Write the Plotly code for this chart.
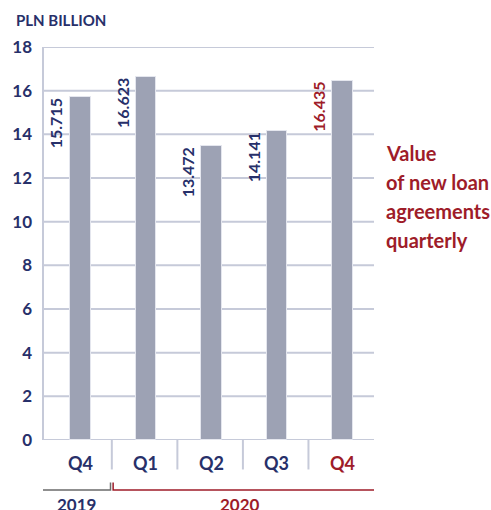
import plotly.graph_objects as go

# Quarterly value of new loan agreements, PLN billion
quarters = ["Q4", "Q1", "Q2", "Q3", "Q4"]
years = ["2019", "2020"]
values = [15.715, 16.623, 13.472, 14.141, 16.435]
value_labels = ["15.715", "16.623", "13.472", "14.141", "16.435"]
y_ticks = [0, 2, 4, 6, 8, 10, 12, 14, 16, 18]
note_lines = ["Value", "of new loan", "agreements", "quarterly"]

NAVY = "#27306a"
RED = "#9e1c29"
BAR = "#9da2b4"
GRID = "#c6cad9"
FONT = "Lato"
PLOT_TOP = 47  # px offset of the plot area from the top edge


def font(size, color, weight="bold"):
    return dict(family=FONT, size=size, color=color, weight=weight)


x_pos = list(range(len(values)))
label_colors = [NAVY, NAVY, NAVY, NAVY, RED]

fig = go.Figure()
fig.add_trace(go.Bar(
    x=x_pos, y=values, width=0.31,
    marker=dict(color=BAR, line=dict(color="#e4e6ee", width=1)),
    hoverinfo="skip",
))

annotations = []
# rotated value labels to the left of each bar, ending at the bar top
for i, (v, t, c) in enumerate(zip(values, value_labels, label_colors)):
    annotations.append(dict(
        x=i, y=v, xref="x", yref="y", text=t, textangle=-90,
        showarrow=False, xanchor="center", yanchor="top", xshift=-24, yshift=1,
        font=font(16, c),
    ))
# quarter labels below the axis
for i, (q, c) in enumerate(zip(quarters, label_colors)):
    annotations.append(dict(
        x=i, y=0, xref="x", yref="y", text=q, showarrow=False,
        xanchor="center", yanchor="middle", yshift=-23,
        font=font(18, c),
    ))
# year group labels
annotations.append(dict(x=-0.06, y=0, xref="x", yref="y",
                        text=years[0], showarrow=False, yshift=-64,
                        font=font(17, NAVY)))
annotations.append(dict(x=2.44, y=0, xref="x", yref="y",
                        text=years[1], showarrow=False, yshift=-64,
                        font=font(17, RED)))
# axis unit title
annotations.append(dict(x=0, y=1, xref="paper", yref="paper", text="PLN BILLION",
                        showarrow=False, xanchor="left", yanchor="middle",
                        xshift=-29, yshift=27, font=font(15, NAVY)))
# series description on the right, one line at a time
for k, line in enumerate(note_lines):
    annotations.append(dict(x=1, y=1, xref="paper", yref="paper", text=line,
                            showarrow=False, xanchor="left", yanchor="middle",
                            xshift=10, yshift=-(153 + 29 * k - PLOT_TOP),
                            font=font(20, RED)))

shapes = []
# gridlines
for t in y_ticks:
    shapes.append(dict(type="line", xref="paper", yref="y", x0=0, x1=1, y0=t, y1=t,
                       line=dict(color=GRID, width=2), layer="below"))
# left axis line
shapes.append(dict(type="line", xref="paper", yref="y", x0=0, x1=0, y0=0, y1=18,
                   line=dict(color=GRID, width=2)))
# category separators under the baseline
for i in range(len(values) - 1):
    shapes.append(dict(type="line", xref="x", yref="paper", x0=i + 0.48, x1=i + 0.48,
                       y0=0, y1=-0.075, line=dict(color=GRID, width=2)))


# year brackets
def bracket(x0, x1, color):
    return dict(type="path", xref="x", yref="paper",
                path=f"M {x0},-0.108 L {x0},-0.127 L {x1},-0.127 L {x1},-0.108",
                line=dict(color=color, width=1.5))


shapes.append(bracket(-0.62, 0.46, "#6b6b6b"))
shapes.append(bracket(0.5, 4.54, RED))

fig.update_layout(
    width=491, height=510,
    margin=dict(l=41, r=117, t=PLOT_TOP, b=70),
    paper_bgcolor="white", plot_bgcolor="white",
    showlegend=False, bargap=0,
    xaxis=dict(range=[-0.57, 4.48], showgrid=False, zeroline=False,
               showticklabels=False, fixedrange=True),
    yaxis=dict(range=[0, 18], tickvals=y_ticks, showgrid=False, zeroline=False,
               ticks="", ticklabelstandoff=10,
               tickfont=font(17, NAVY),
               fixedrange=True),
    annotations=annotations, shapes=shapes,
)

fig.write_html("out.html")
